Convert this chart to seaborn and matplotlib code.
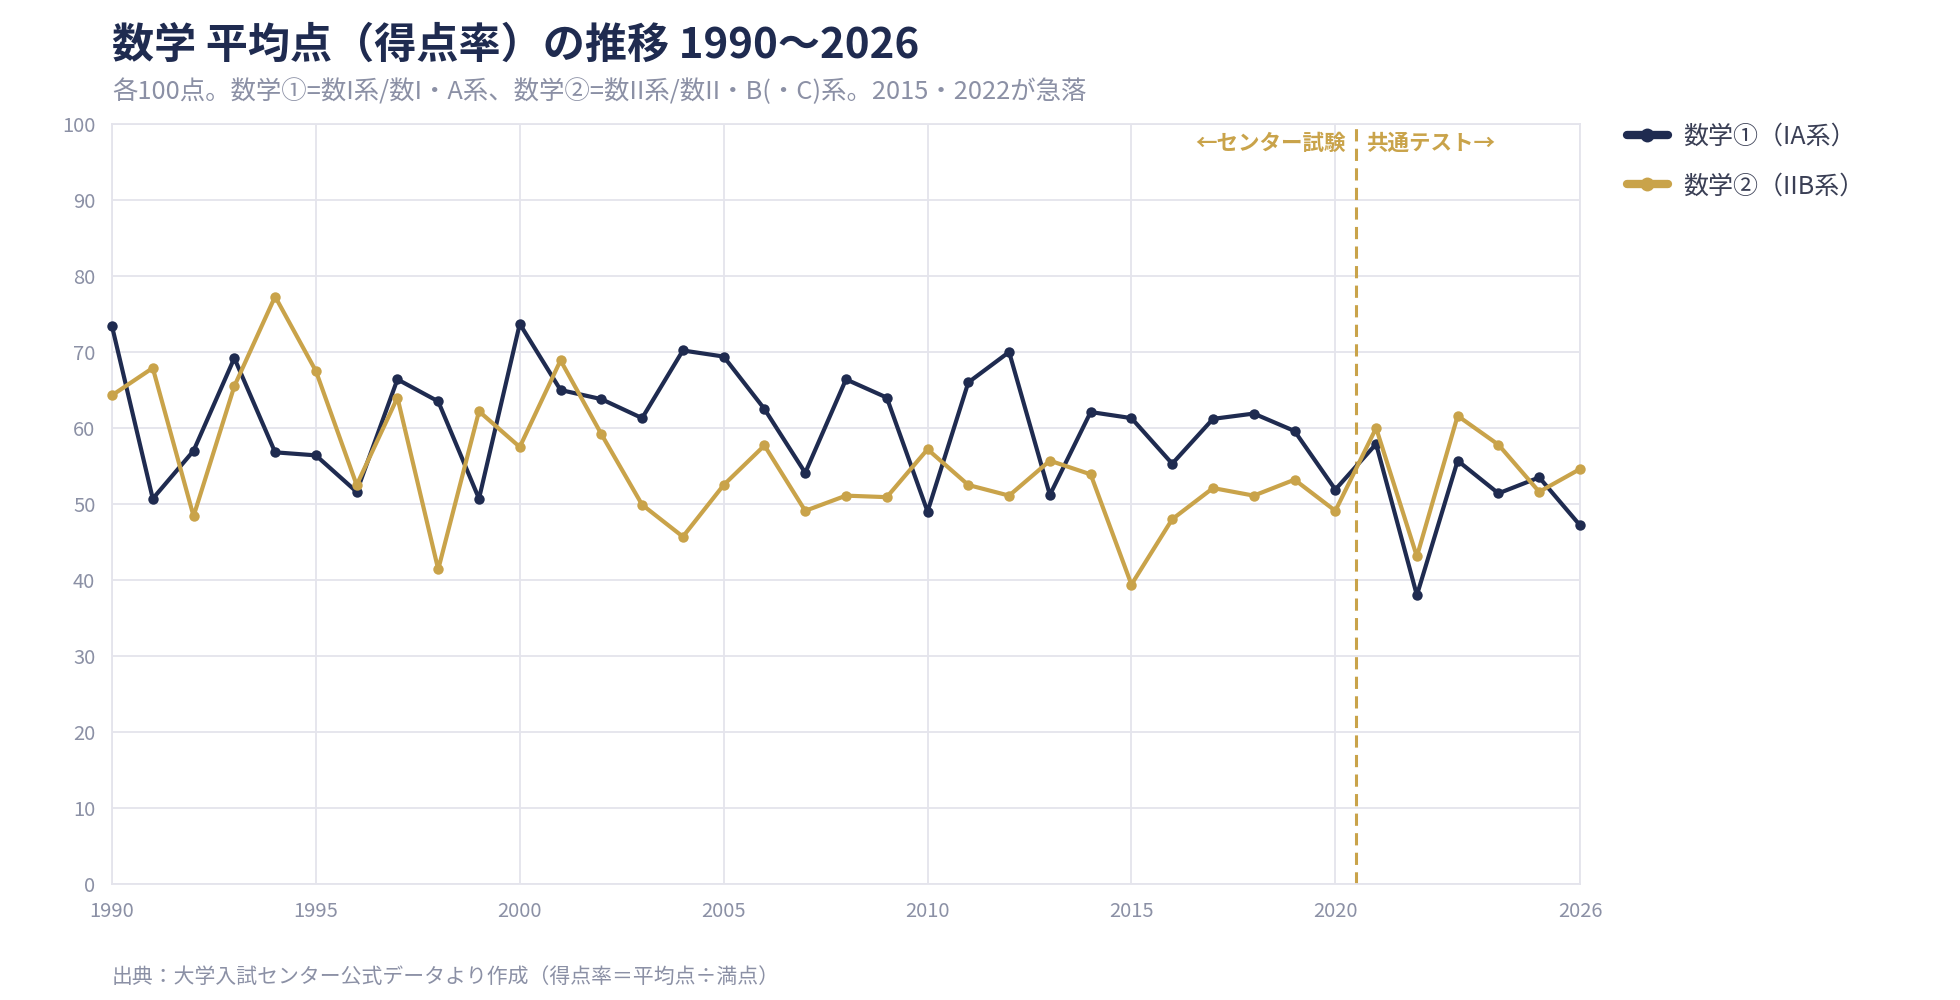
import matplotlib
matplotlib.use("Agg")
import matplotlib.pyplot as plt
import numpy as np
import pandas as pd
import seaborn as sns

# ---- data ----
years = list(range(1990, 2027))
math1 = [73.4, 50.7, 57.0, 69.2, 56.8, 56.4, 51.6, 66.4, 63.5, 50.7,
         73.7, 65.0, 63.8, 61.3, 70.2, 69.4, 62.5, 54.1, 66.4, 64.0,
         49.0, 66.0, 70.0, 51.2, 62.1, 61.3, 55.3, 61.2, 61.9, 59.6,
         51.9, 57.9, 38.0, 55.7, 51.4, 53.5, 47.2]
math2 = [64.3, 67.9, 48.4, 65.5, 77.3, 67.5, 52.5, 64.0, 41.4, 62.2,
         57.5, 68.9, 59.2, 49.9, 45.7, 52.5, 57.7, 49.1, 51.1, 50.9,
         57.2, 52.5, 51.1, 55.7, 53.9, 39.4, 48.0, 52.1, 51.1, 53.2,
         49.1, 60.0, 43.1, 61.6, 57.8, 51.6, 54.6]
series_names = ["数学①（IA系）", "数学②（IIB系）"]
xticks = [1990, 1995, 2000, 2005, 2010, 2015, 2020, 2026]
yticks = list(range(0, 101, 10))
boundary_year = 2020.5
title = "数学 平均点（得点率）の推移 1990〜2026"
subtitle = "各100点。数学①=数I系/数I・A系、数学②=数II系/数II・B(・C)系。2015・2022が急落"
source = "出典：大学入試センター公式データより作成（得点率＝平均点÷満点）"
era_left = "←センター試験"
era_right = "共通テスト→"

NAVY = "#1f2b50"
GOLD = "#c9a34a"
GRID = "#e4e4ec"
TICK = "#8b90a5"

sns.set_theme(style="white")
plt.rcParams['font.family'] = ['Noto Sans CJK JP', 'DejaVu Sans']

df = pd.DataFrame({
    "year": years * 2,
    "score": math1 + math2,
    "series": [series_names[0]] * len(years) + [series_names[1]] * len(years),
})

fig = plt.figure(figsize=(19.6, 10), dpi=100)
ax = fig.add_axes([112 / 1960, 116 / 1000, 1468 / 1960, 760 / 1000])

ax.set_xlim(1990, 2026)
ax.set_ylim(0, 100)
ax.set_xticks(xticks)
ax.set_yticks(yticks)
ax.grid(True, color=GRID, linewidth=1.3)
ax.set_axisbelow(True)
for s in ax.spines.values():
    s.set_color(GRID)
    s.set_linewidth(1.3)

ax.axvline(boundary_year, color=GOLD, linestyle=(0, (4, 2.4)), linewidth=2.2, zorder=1)

sns.lineplot(data=df, x="year", y="score", hue="series", palette=[NAVY, GOLD],
             marker="o", markersize=7.5, markeredgewidth=0, linewidth=3,
             ax=ax, clip_on=False, zorder=3)

ax.set_xlabel("")
ax.set_ylabel("")
ax.tick_params(axis="both", length=0, labelsize=14.5, labelcolor=TICK)
ax.tick_params(axis="x", pad=12)
ax.tick_params(axis="y", pad=12)

ax.text(boundary_year - 0.25, 97.5, era_left, color=GOLD, fontsize=15.5,
        fontweight="bold", ha="right", va="center")
ax.text(boundary_year + 0.25, 97.5, era_right, color=GOLD, fontsize=15.5,
        fontweight="bold", ha="left", va="center")

leg = ax.legend(loc="upper left", bbox_to_anchor=(1.025, 1.014), frameon=False,
                fontsize=18, handlelength=1.65, handletextpad=0.6,
                labelspacing=0.95, borderaxespad=0)
for t in leg.get_texts():
    t.set_color("#3a3f55")
for h in leg.get_lines():
    h.set_linewidth(6)
    h.set_markersize(10)

fig.text(112 / 1960, 1 - 46 / 1000, title, fontsize=30.3, fontweight="bold",
         color=NAVY, ha="left", va="center")
fig.text(112 / 1960, 1 - 92 / 1000, subtitle, fontsize=18.3, color=TICK,
         ha="left", va="center")
fig.text(112 / 1960, 1 - 977 / 1000, source, fontsize=15, color=TICK,
         ha="left", va="center")

fig.savefig("out.png", dpi=100)
